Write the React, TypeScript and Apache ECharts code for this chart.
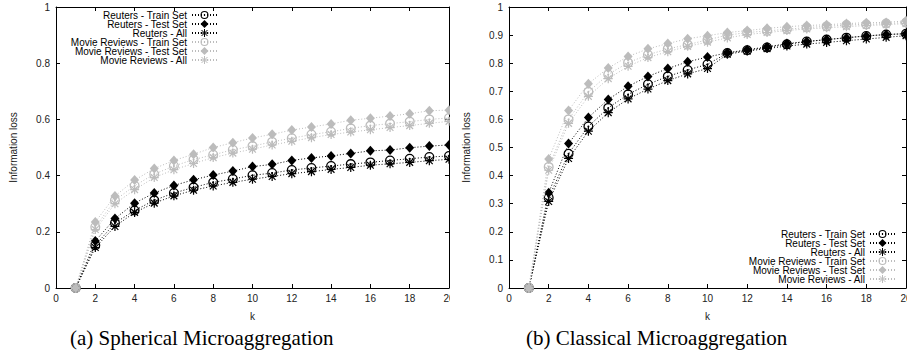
import { useEffect, useRef } from "react";
import * as echarts from "echarts";

// k = number of records per group
const kValues = [1, 2, 3, 4, 5, 6, 7, 8, 9, 10, 11, 12, 13, 14, 15, 16, 17, 18, 19, 20];

const seriesNames = [
  "Reuters - Train Set",
  "Reuters - Test Set",
  "Reuters - All",
  "Movie Reviews - Train Set",
  "Movie Reviews - Test Set",
  "Movie Reviews - All",
];

// (a) Spherical microaggregation
const sphReutersTrain = [0, 0.152, 0.231, 0.276, 0.312, 0.338, 0.358, 0.376, 0.388, 0.401, 0.409, 0.42, 0.427, 0.434, 0.441, 0.447, 0.454, 0.46, 0.466, 0.47];
const sphReutersTest = [0, 0.167, 0.247, 0.302, 0.338, 0.365, 0.385, 0.402, 0.416, 0.432, 0.44, 0.454, 0.463, 0.47, 0.479, 0.488, 0.491, 0.499, 0.505, 0.509];
const sphReutersAll = [0, 0.144, 0.219, 0.269, 0.302, 0.328, 0.348, 0.363, 0.376, 0.387, 0.397, 0.407, 0.414, 0.422, 0.429, 0.437, 0.442, 0.447, 0.453, 0.458];
const sphMovieTrain = [0, 0.217, 0.312, 0.364, 0.405, 0.434, 0.457, 0.474, 0.492, 0.505, 0.52, 0.533, 0.546, 0.556, 0.568, 0.578, 0.585, 0.592, 0.6, 0.605];
const sphMovieTest = [0, 0.235, 0.327, 0.384, 0.425, 0.454, 0.476, 0.5, 0.517, 0.534, 0.547, 0.562, 0.573, 0.584, 0.597, 0.604, 0.612, 0.62, 0.631, 0.633];
const sphMovieAll = [0, 0.208, 0.3, 0.35, 0.393, 0.421, 0.443, 0.464, 0.48, 0.494, 0.509, 0.522, 0.535, 0.546, 0.555, 0.563, 0.571, 0.578, 0.586, 0.593];

// (b) Classical microaggregation
const clsReutersTrain = [0, 0.321, 0.478, 0.575, 0.641, 0.689, 0.725, 0.753, 0.776, 0.796, 0.836, 0.846, 0.856, 0.867, 0.877, 0.884, 0.891, 0.897, 0.902, 0.905];
const clsReutersTest = [0, 0.339, 0.514, 0.607, 0.671, 0.718, 0.753, 0.781, 0.805, 0.822, 0.837, 0.848, 0.858, 0.87, 0.877, 0.884, 0.89, 0.897, 0.902, 0.905];
const clsReutersAll = [0, 0.308, 0.461, 0.558, 0.624, 0.673, 0.708, 0.738, 0.762, 0.781, 0.832, 0.843, 0.852, 0.861, 0.868, 0.874, 0.88, 0.886, 0.892, 0.898];
const clsMovieTrain = [0, 0.431, 0.6, 0.698, 0.76, 0.802, 0.83, 0.851, 0.866, 0.883, 0.9, 0.909, 0.915, 0.921, 0.927, 0.931, 0.936, 0.938, 0.941, 0.945];
const clsMovieTest = [0, 0.459, 0.632, 0.727, 0.783, 0.824, 0.851, 0.87, 0.887, 0.898, 0.909, 0.916, 0.924, 0.93, 0.934, 0.937, 0.941, 0.944, 0.945, 0.951];
const clsMovieAll = [0, 0.419, 0.586, 0.682, 0.745, 0.789, 0.82, 0.841, 0.86, 0.875, 0.89, 0.902, 0.909, 0.916, 0.922, 0.926, 0.93, 0.934, 0.937, 0.941];

const BLACK = "#000000";
const GRAY = "#bcbcbc";

// open circle with a centre dot, star (+ and x), filled diamond
const RING =
  "path://M0,-10A10,10 0 1,1 0,10A10,10 0 1,1 0,-10ZM0,-7.4A7.4,7.4 0 1,0 0,7.4A7.4,7.4 0 1,0 0,-7.4ZM0,-2A2,2 0 1,1 0,2A2,2 0 1,1 0,-2Z";
const STAR = "path://M-10,0L10,0M0,-10L0,10M-7.5,-7.5L7.5,7.5M-7.5,7.5L7.5,-7.5";

const markerStyles = [
  { symbol: RING, color: BLACK, size: 10, stroke: false },
  { symbol: "diamond", color: BLACK, size: [9, 10], stroke: false },
  { symbol: STAR, color: BLACK, size: 9, stroke: true },
  { symbol: RING, color: GRAY, size: 10, stroke: false },
  { symbol: "diamond", color: GRAY, size: [9, 10], stroke: false },
  { symbol: STAR, color: GRAY, size: 9, stroke: true },
];

const SANS = "'Liberation Sans', Arial, sans-serif";

type PanelCfg = {
  values: number[][];
  yInterval: number;
  gridLeft: number;
  gridWidth: number;
  legendRight: number;
  legendTop: number;
  caption: string;
  captionX: number;
};

function buildOption(cfg: PanelCfg) {
  const series = cfg.values.map((vals, i) => {
    const m = markerStyles[i];
    return {
      name: seriesNames[i],
      type: "line",
      xAxisIndex: 0,
      yAxisIndex: 0,
      data: kValues.map((k, j) => [k, vals[j]]),
      symbol: m.symbol,
      symbolSize: m.size,
      showAllSymbol: true,
      lineStyle: { color: m.color, width: 1, type: [1, 2] },
      itemStyle: {
        color: m.color,
        borderColor: m.color,
        borderWidth: m.stroke ? 1.2 : 0,
      },
      emphasis: { disabled: true },
      z: 2 + i,
    };
  });

  const grid = { left: cfg.gridLeft, top: 7, width: cfg.gridWidth, height: 281 };
  const axisLine = { show: true, onZero: false, lineStyle: { color: "#000", width: 1 } };
  const tick = { show: true, inside: true, length: 4, lineStyle: { color: "#000", width: 1 } };
  const labelFont = { fontFamily: SANS, fontSize: 10, color: "#222" };

  return {
    animation: false,
    backgroundColor: "#fff",
    grid,
    xAxis: [
      {
        type: "value",
        position: "bottom",
        min: 0,
        max: 20,
        interval: 2,
        axisLine,
        axisTick: tick,
        axisLabel: { ...labelFont, margin: 5 },
        splitLine: { show: false },
        name: "k",
        nameLocation: "middle",
        nameGap: 23,
        nameTextStyle: labelFont,
      },
      {
        type: "value",
        position: "top",
        min: 0,
        max: 20,
        interval: 2,
        axisLine,
        axisTick: tick,
        axisLabel: { show: false },
        splitLine: { show: false },
      },
    ],
    yAxis: [
      {
        type: "value",
        position: "left",
        min: 0,
        max: 1,
        interval: cfg.yInterval,
        axisLine,
        axisTick: tick,
        axisLabel: { ...labelFont, margin: 6 },
        splitLine: { show: false },
        name: "Information loss",
        nameLocation: "middle",
        nameGap: 38,
        nameTextStyle: labelFont,
      },
      {
        type: "value",
        position: "right",
        min: 0,
        max: 1,
        interval: cfg.yInterval,
        axisLine,
        axisTick: tick,
        axisLabel: { show: false },
        splitLine: { show: false },
      },
    ],
    legend: {
      orient: "vertical",
      align: "right",
      right: cfg.legendRight,
      top: cfg.legendTop,
      itemWidth: 25,
      itemHeight: 10,
      itemGap: -1,
      padding: 0,
      selectedMode: false,
      data: seriesNames.map((name, i) => ({
        name,
        itemStyle: {
          color: markerStyles[i].color,
          borderColor: markerStyles[i].color,
          borderWidth: markerStyles[i].stroke ? 1 : 0,
        },
      })),
      textStyle: { fontFamily: SANS, fontSize: 10, color: "#000", lineHeight: 9 },
    },
    graphic: [
      {
        type: "text",
        left: cfg.captionX,
        top: 327,
        style: {
          text: cfg.caption,
          font: "21px 'Liberation Serif', 'Times New Roman', serif",
          fill: "#000",
        },
      },
    ],
    series,
  };
}

function Panel(props: { cfg: PanelCfg; left: number; clipWidth: number; chartWidth: number }) {
  const ref = useRef<HTMLDivElement>(null);
  useEffect(() => {
    if (!ref.current) return;
    const chart = echarts.init(ref.current, null, { renderer: "svg" });
    chart.setOption(buildOption(props.cfg) as any);
    return () => chart.dispose();
  }, [props.cfg]);
  return (
    <div
      style={{
        position: "absolute",
        left: props.left,
        top: 0,
        width: props.clipWidth,
        height: 362,
        overflow: "hidden",
      }}
    >
      <div ref={ref} style={{ width: props.chartWidth, height: 362 }} />
    </div>
  );
}

const sphericalCfg: PanelCfg = {
  values: [sphReutersTrain, sphReutersTest, sphReutersAll, sphMovieTrain, sphMovieTest, sphMovieAll],
  yInterval: 0.2,
  gridLeft: 51,
  gridWidth: 398,
  legendRight: 262,
  legendTop: 10,
  caption: "(a) Spherical Microaggregation",
  captionX: 70,
};

const classicalCfg: PanelCfg = {
  values: [clsReutersTrain, clsReutersTest, clsReutersAll, clsMovieTrain, clsMovieTest, clsMovieAll],
  yInterval: 0.1,
  gridLeft: 59,
  gridWidth: 397,
  legendRight: 34,
  legendTop: 229,
  caption: "(b) Classical Microaggregation",
  captionX: 76,
};

export default function App() {
  return (
    <div style={{ position: "fixed", left: 0, top: 0, width: 907, height: 362, background: "#fff" }}>
      <Panel cfg={sphericalCfg} left={0} clipWidth={450} chartWidth={480} />
      <Panel cfg={classicalCfg} left={450} clipWidth={457} chartWidth={480} />
    </div>
  );
}
